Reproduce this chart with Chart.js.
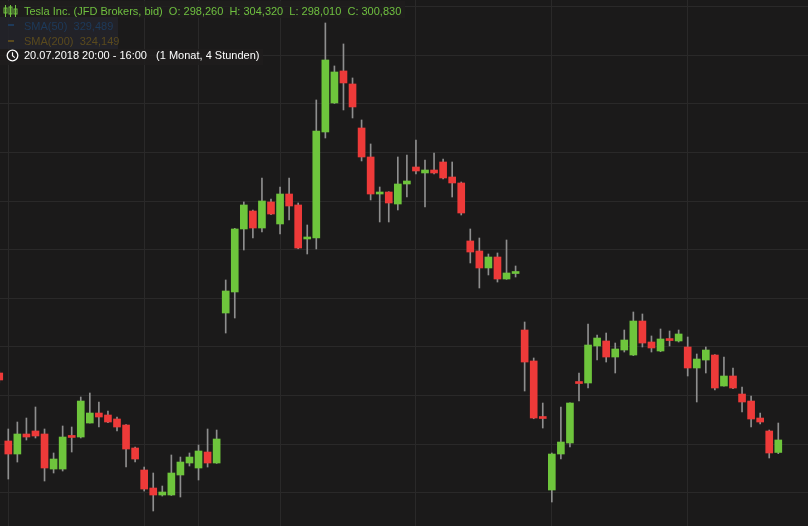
<!DOCTYPE html>
<html>
<head>
<meta charset="utf-8">
<script src="https://cdn.jsdelivr.net/npm/chart.js@4.4.0/dist/chart.umd.min.js"></script>
<style>
  html, body { margin: 0; padding: 0; background: #1b1a1a; }
  #wrap { position: relative; width: 808px; height: 526px; overflow: hidden; }
  #myChart { position: absolute; left: 0; top: 0; }
  .row { position: absolute; left: 0; font: 11px "Liberation Sans", Arial, sans-serif; line-height: 14px; white-space: pre; }
  .box { position: absolute; left: 0; }
</style>
</head>
<body>
<div id="wrap">
  <canvas id="myChart" width="808" height="526"></canvas>

  <div class="box" style="top:1px;width:405px;height:17px;background:rgba(30,29,29,0.85)"></div>
  <div class="box" style="top:17px;width:118px;height:32px;background:rgba(36,35,42,0.9)"></div>
  <div class="box" style="top:49px;width:263px;height:16px;background:rgba(30,29,29,0.85)"></div>

  <svg style="position:absolute;left:3px;top:5px" width="16" height="12" viewBox="0 0 16 12">
    <g stroke="#70c040" fill="none" stroke-width="1">
      <line x1="2.5" y1="0" x2="2.5" y2="12"/><rect x="1" y="3" width="3" height="5"/>
      <line x1="7.5" y1="0" x2="7.5" y2="12"/><rect x="6" y="2" width="3" height="7"/>
      <line x1="12.5" y1="0" x2="12.5" y2="12"/><rect x="11" y="4" width="3" height="5"/>
    </g>
  </svg>
  <div class="row" style="top:4px;left:24px;color:#70c040">Tesla Inc. (JFD Brokers, bid)  O: 298,260  H: 304,320  L: 298,010  C: 300,830</div>

  <div style="position:absolute;left:8px;top:24px;width:6px;height:2px;background:#1e3a5a"></div>
  <div class="row" style="top:19px;left:24px;color:#1e3a5a">SMA(50)  329,489</div>

  <div style="position:absolute;left:8px;top:40px;width:6px;height:2px;background:#5a4a1e"></div>
  <div class="row" style="top:34px;left:24px;color:#5a4a1e">SMA(200)  324,149</div>

  <svg style="position:absolute;left:6px;top:49px" width="13" height="13" viewBox="0 0 13 13">
    <circle cx="6.5" cy="6.5" r="5.3" stroke="#ffffff" stroke-width="1.3" fill="none"/>
    <polyline points="6.5,3.2 6.5,6.8 8.8,8.6" stroke="#ffffff" stroke-width="1.2" fill="none"/>
  </svg>
  <div class="row" style="top:48px;left:24px;color:#ffffff">20.07.2018 20:00 - 16:00   (1 Monat, 4 Stunden)</div>
</div>

<script>
// 4-hour candles, Tesla Inc., from 20.07.2018
const openValues = [
  314.62, 300.62, 297.94, 302.06, 302.68, 302.06, 294.85, 294.85, 301.55, 301.44,
  304.32, 306.38, 305.97, 305.15, 303.91, 299.18, 294.65, 290.94, 289.50, 289.50,
  293.62, 296.09, 295.06, 298.35, 296.09, 326.97, 331.30, 344.27, 347.97, 344.47,
  349.83, 345.30, 351.47, 349.21, 342.21, 342.41, 364.24, 370.21, 376.80, 374.12,
  365.06, 359.09, 351.47, 351.88, 349.41, 353.53, 357.03, 355.80, 356.41, 358.06,
  354.97, 353.74, 341.80, 339.74, 336.24, 338.50, 333.97, 335.10, 323.47, 317.09,
  305.45, 290.53, 297.94, 300.21, 312.65, 312.56, 320.18, 321.21, 317.91, 319.35,
  318.32, 325.32, 321.00, 319.15, 321.50, 321.21, 319.97, 315.65, 317.29, 318.32,
  311.94, 314.00, 310.29, 308.85, 305.35, 302.68, 298.26
];
const highValues = [
  315.03, 303.09, 304.53, 305.35, 307.62, 303.09, 298.15, 303.71, 303.50, 309.68,
  310.50, 308.65, 306.79, 305.56, 304.00, 299.38, 295.26, 294.03, 291.35, 297.74,
  297.32, 298.15, 299.79, 303.09, 302.88, 333.77, 344.40, 349.83, 348.18, 354.77,
  350.44, 352.91, 354.77, 349.62, 345.09, 370.83, 386.68, 377.83, 382.36, 375.36,
  366.71, 361.77, 352.91, 351.95, 359.09, 359.50, 362.59, 358.47, 359.91, 358.68,
  358.06, 353.94, 344.27, 342.41, 339.12, 339.33, 342.00, 336.65, 325.12, 317.71,
  308.44, 298.15, 307.62, 308.50, 314.62, 324.71, 322.44, 322.85, 320.79, 323.47,
  327.18, 326.77, 322.24, 323.68, 323.27, 323.47, 322.03, 318.53, 319.97, 318.40,
  317.91, 315.65, 311.74, 309.88, 306.38, 302.88, 304.32
];
const lowValues = [
  312.56, 292.79, 296.29, 300.82, 301.24, 292.38, 294.03, 294.44, 298.35, 301.24,
  304.32, 303.50, 304.40, 302.68, 295.26, 296.29, 290.32, 286.21, 289.29, 289.40,
  289.09, 295.47, 292.59, 295.26, 296.00, 322.85, 325.94, 339.94, 342.41, 343.65,
  347.20, 343.24, 346.12, 340.20, 339.12, 340.15, 363.00, 370.10, 368.77, 367.12,
  358.27, 350.24, 345.71, 345.71, 348.18, 350.85, 355.59, 348.80, 355.59, 354.56,
  350.85, 347.15, 337.27, 332.12, 334.80, 333.35, 333.90, 334.38, 310.91, 305.20,
  303.29, 288.06, 296.91, 299.38, 308.85, 311.53, 317.29, 316.88, 314.62, 318.94,
  318.20, 319.97, 318.94, 319.00, 320.18, 321.00, 314.00, 308.65, 314.62, 311.12,
  311.90, 311.40, 306.59, 303.50, 304.12, 297.12, 298.01
];
const closeValues = [
  313.18, 297.94, 302.06, 301.44, 301.65, 295.06, 296.91, 301.44, 301.35, 308.85,
  306.38, 305.56, 304.53, 303.50, 298.97, 296.91, 290.73, 289.50, 290.12, 294.03,
  296.29, 297.32, 298.56, 296.09, 301.03, 331.50, 344.27, 349.21, 344.47, 350.03,
  347.35, 351.47, 349.00, 340.35, 342.41, 364.44, 379.06, 376.59, 374.33, 369.39,
  359.09, 351.47, 351.68, 349.62, 353.53, 354.15, 356.21, 356.41, 355.80, 354.77,
  353.74, 347.56, 339.53, 336.24, 338.50, 333.97, 335.21, 335.30, 316.88, 305.35,
  305.25, 297.94, 300.41, 308.44, 312.45, 320.38, 321.82, 317.91, 319.56, 321.41,
  325.32, 320.79, 319.77, 321.62, 321.30, 322.65, 315.65, 317.50, 319.35, 311.53,
  314.00, 311.53, 308.65, 305.15, 304.53, 298.15, 300.83
];
// vertical grid lines sit on these candles (week starts + month start)
const gridCandles = [1, 16, 22, 31, 46, 61, 76];
const priceGrid = [290, 300, 310, 320, 330, 340, 350, 360, 370, 380, 390];

const upColor = '#6ec53c';
const downColor = '#ee3a39';
const wickColor = '#8e8e8e';

document.addEventListener('DOMContentLoaded', function () {
    const ctx = document.getElementById('myChart').getContext('2d');
    const bodies = openValues.map((o, i) => ({ x: i, y: [o, closeValues[i]] }));
    const wicks = lowValues.map((l, i) => ({ x: i, y: [l, highValues[i]] }));
    const bodyColors = openValues.map((o, i) => closeValues[i] >= o ? upColor : downColor);

    new Chart(ctx, {
        type: 'bar',
        data: {
            datasets: [{
                label: 'body',
                data: bodies,
                backgroundColor: bodyColors,
                barThickness: 7,
                minBarLength: 2,
                grouped: false,
                order: 0
            }, {
                label: 'wick',
                data: wicks,
                backgroundColor: wickColor,
                barThickness: 1,
                grouped: false,
                order: 1
            }]
        },
        options: {
            responsive: false,
            animation: false,
            layout: { padding: 0 },
            plugins: { legend: { display: false }, tooltip: { enabled: false } },
            scales: {
                x: {
                    type: 'linear',
                    offset: false,
                    min: 0.084,
                    max: 89.28,
                    afterBuildTicks: (scale) => { scale.ticks = gridCandles.map(v => ({ value: v })); },
                    ticks: { display: false },
                    grid: { color: '#2a2929', drawTicks: false, offset: false },
                    border: { display: false }
                },
                y: {
                    min: 283.12,
                    max: 391.41,
                    afterBuildTicks: (scale) => { scale.ticks = priceGrid.map(v => ({ value: v })); },
                    ticks: { display: false },
                    grid: { color: '#2a2929', drawTicks: false },
                    border: { display: false }
                }
            }
        }
    });
});
</script>
</body>
</html>
